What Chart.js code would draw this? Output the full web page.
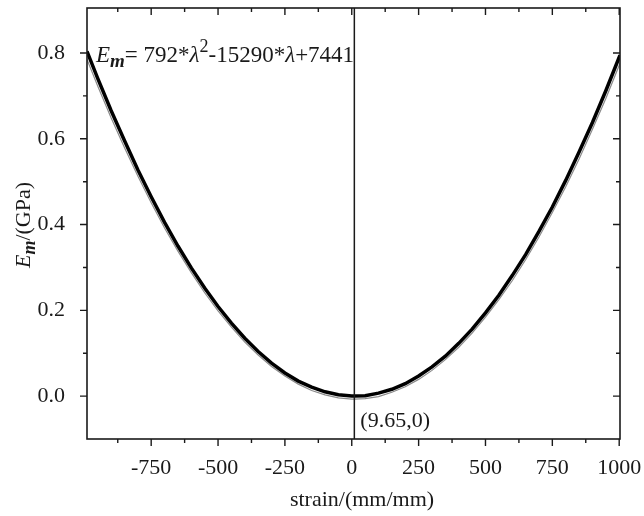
<!DOCTYPE html>
<html>
<head>
<meta charset="utf-8">
<script src="https://cdn.jsdelivr.net/npm/chart.js@4.4.0/dist/chart.umd.min.js"></script>
<style>
  html, body { margin: 0; padding: 0; background: #fff; }
</style>
</head>
<body>
<canvas id="chart" width="644" height="516"></canvas>
<script>
// strain values (mm/mm) and modulus Em (GPa)
const strain = [-990, -950, -900, -850, -800, -750, -700, -650, -600, -550, -500, -450, -400, -350,
  -300, -250, -200, -150, -100, -50, 0, 9.65, 50, 100, 150, 200, 250, 300, 350, 400, 450, 500,
  550, 600, 650, 700, 750, 800, 850, 900, 950, 1003];
const modulusFit = [0.804, 0.741, 0.666, 0.596, 0.528, 0.465, 0.405, 0.350, 0.299, 0.252, 0.209,
  0.170, 0.135, 0.104, 0.077, 0.054, 0.035, 0.021, 0.010, 0.003, 0.000, 0.000, 0.001, 0.007, 0.016,
  0.029, 0.047, 0.068, 0.093, 0.123, 0.156, 0.194, 0.235, 0.281, 0.330, 0.384, 0.441, 0.503, 0.569,
  0.638, 0.712, 0.795];
const modulusData = [0.785, 0.723, 0.649, 0.580, 0.513, 0.451, 0.392, 0.338, 0.288, 0.241, 0.199,
  0.161, 0.126, 0.096, 0.069, 0.047, 0.028, 0.013, 0.003, -0.004, -0.007, -0.007, -0.006, -0.001,
  0.009, 0.022, 0.039, 0.060, 0.085, 0.114, 0.147, 0.184, 0.225, 0.269, 0.318, 0.371, 0.428, 0.488,
  0.553, 0.622, 0.694, 0.776];

const xTicks = [-750, -500, -250, 0, 250, 500, 750, 1000];
const xMinor = [-875, -625, -375, -125, 125, 375, 625, 875];
const yTicks = [0.0, 0.2, 0.4, 0.6, 0.8];
const yMinor = [0.1, 0.3, 0.5, 0.7];
const vertexX = 9.65;

const serif = '"Liberation Serif", "Times New Roman", serif';
const ink = '#1a1a1a';

Chart.defaults.font.family = serif;
Chart.defaults.font.size = 22;
Chart.defaults.color = ink;

// draws a sequence of text runs with their own font and vertical shift
function drawRuns(ctx, runs, x, y) {
  let cx = x;
  for (const r of runs) {
    ctx.font = r.font;
    ctx.fillText(r.text, cx, y + (r.dy || 0));
    cx += ctx.measureText(r.text).width;
  }
  return cx - x;
}
function runsWidth(ctx, runs) {
  let w = 0;
  for (const r of runs) { ctx.font = r.font; w += ctx.measureText(r.text).width; }
  return w;
}

const framePlugin = {
  id: 'frame',
  afterDatasetsDraw(chart) {
    const { ctx, chartArea: a, scales: { x, y } } = chart;
    ctx.save();
    ctx.strokeStyle = ink;
    ctx.fillStyle = ink;

    // vertical line through the vertex
    ctx.lineWidth = 1.5;
    const vx = x.getPixelForValue(vertexX);
    ctx.beginPath();
    ctx.moveTo(vx, a.top);
    ctx.lineTo(vx, a.bottom);
    ctx.stroke();

    // frame
    ctx.lineWidth = 1.6;
    ctx.strokeRect(a.left, a.top, a.right - a.left, a.bottom - a.top);

    // ticks: bottom/left outward, top/right inward
    ctx.lineWidth = 1.4;
    const tick = (vals, len) => {
      for (const v of vals) {
        const px = x.getPixelForValue(v);
        ctx.beginPath();
        ctx.moveTo(px, a.bottom); ctx.lineTo(px, a.bottom + len);
        ctx.moveTo(px, a.top); ctx.lineTo(px, a.top + len);
        ctx.stroke();
      }
    };
    const ytick = (vals, len) => {
      for (const v of vals) {
        const py = y.getPixelForValue(v);
        ctx.beginPath();
        ctx.moveTo(a.left, py); ctx.lineTo(a.left - len, py);
        ctx.moveTo(a.right, py); ctx.lineTo(a.right - len, py);
        ctx.stroke();
      }
    };
    tick(xTicks, 7);
    tick(xMinor, 4);
    ytick(yTicks, 7);
    ytick(yMinor, 4);

    ctx.textBaseline = 'alphabetic';
    ctx.textAlign = 'left';

    // fitted equation
    drawRuns(ctx, [
      { text: 'E', font: 'italic 23px ' + serif },
      { text: 'm', font: 'italic bold 19px ' + serif, dy: 5 },
      { text: '= 792*', font: '23px ' + serif },
      { text: 'λ', font: 'italic 23px ' + serif },
      { text: '2', font: '18px ' + serif, dy: -10 },
      { text: '-15290*', font: '23px ' + serif },
      { text: 'λ', font: 'italic 23px ' + serif },
      { text: '+7441', font: '23px ' + serif }
    ], a.left + 9, 62);

    // vertex label
    ctx.font = '22px ' + serif;
    ctx.fillText('(9.65,0)', vx + 6, 427);

    // x axis title
    ctx.textAlign = 'center';
    ctx.fillText('strain/(mm/mm)', 362, 506);

    // y axis title, rotated
    const yRuns = [
      { text: 'E', font: 'italic 22px ' + serif },
      { text: 'm', font: 'italic bold 18px ' + serif, dy: 5 },
      { text: '/(GPa)', font: '22px ' + serif }
    ];
    ctx.textAlign = 'left';
    ctx.translate(30, 225);
    ctx.rotate(-Math.PI / 2);
    drawRuns(ctx, yRuns, -runsWidth(ctx, yRuns) / 2, 0);
    ctx.restore();
  }
};

new Chart(document.getElementById('chart'), {
  type: 'line',
  data: {
    datasets: [
      {
        label: 'fit',
        data: strain.map((s, i) => ({ x: s, y: modulusFit[i] })),
        borderColor: '#000',
        borderWidth: 3.5,
        pointRadius: 0,
        tension: 0,
        order: 1
      },
      {
        label: 'data',
        data: strain.map((s, i) => ({ x: s, y: modulusData[i] })),
        borderColor: '#8a8a8a',
        borderWidth: 1.2,
        pointRadius: 0,
        tension: 0,
        order: 2
      }
    ]
  },
  options: {
    responsive: false,
    animation: false,
    layout: { padding: { top: 8, right: 24, left: 0, bottom: 0 } },
    plugins: { legend: { display: false }, tooltip: { enabled: false } },
    scales: {
      x: {
        type: 'linear',
        min: -990,
        max: 1003,
        grid: { display: false },
        border: { display: false },
        afterBuildTicks: s => { s.ticks = xTicks.map(v => ({ value: v })); },
        afterFit: s => { s.height = 77; s.paddingLeft = 0; s.paddingRight = 0; },
        ticks: { padding: 8, maxRotation: 0, autoSkip: false, callback: v => String(v) }
      },
      y: {
        type: 'linear',
        min: -0.1,
        max: 0.905,
        grid: { display: false },
        border: { display: false },
        afterBuildTicks: s => { s.ticks = yTicks.map(v => ({ value: v })); },
        afterFit: s => { s.width = 87; s.paddingTop = 0; s.paddingBottom = 0; },
        ticks: { padding: 14, callback: v => v.toFixed(1) }
      }
    }
  },
  plugins: [framePlugin]
});
</script>
</body>
</html>
